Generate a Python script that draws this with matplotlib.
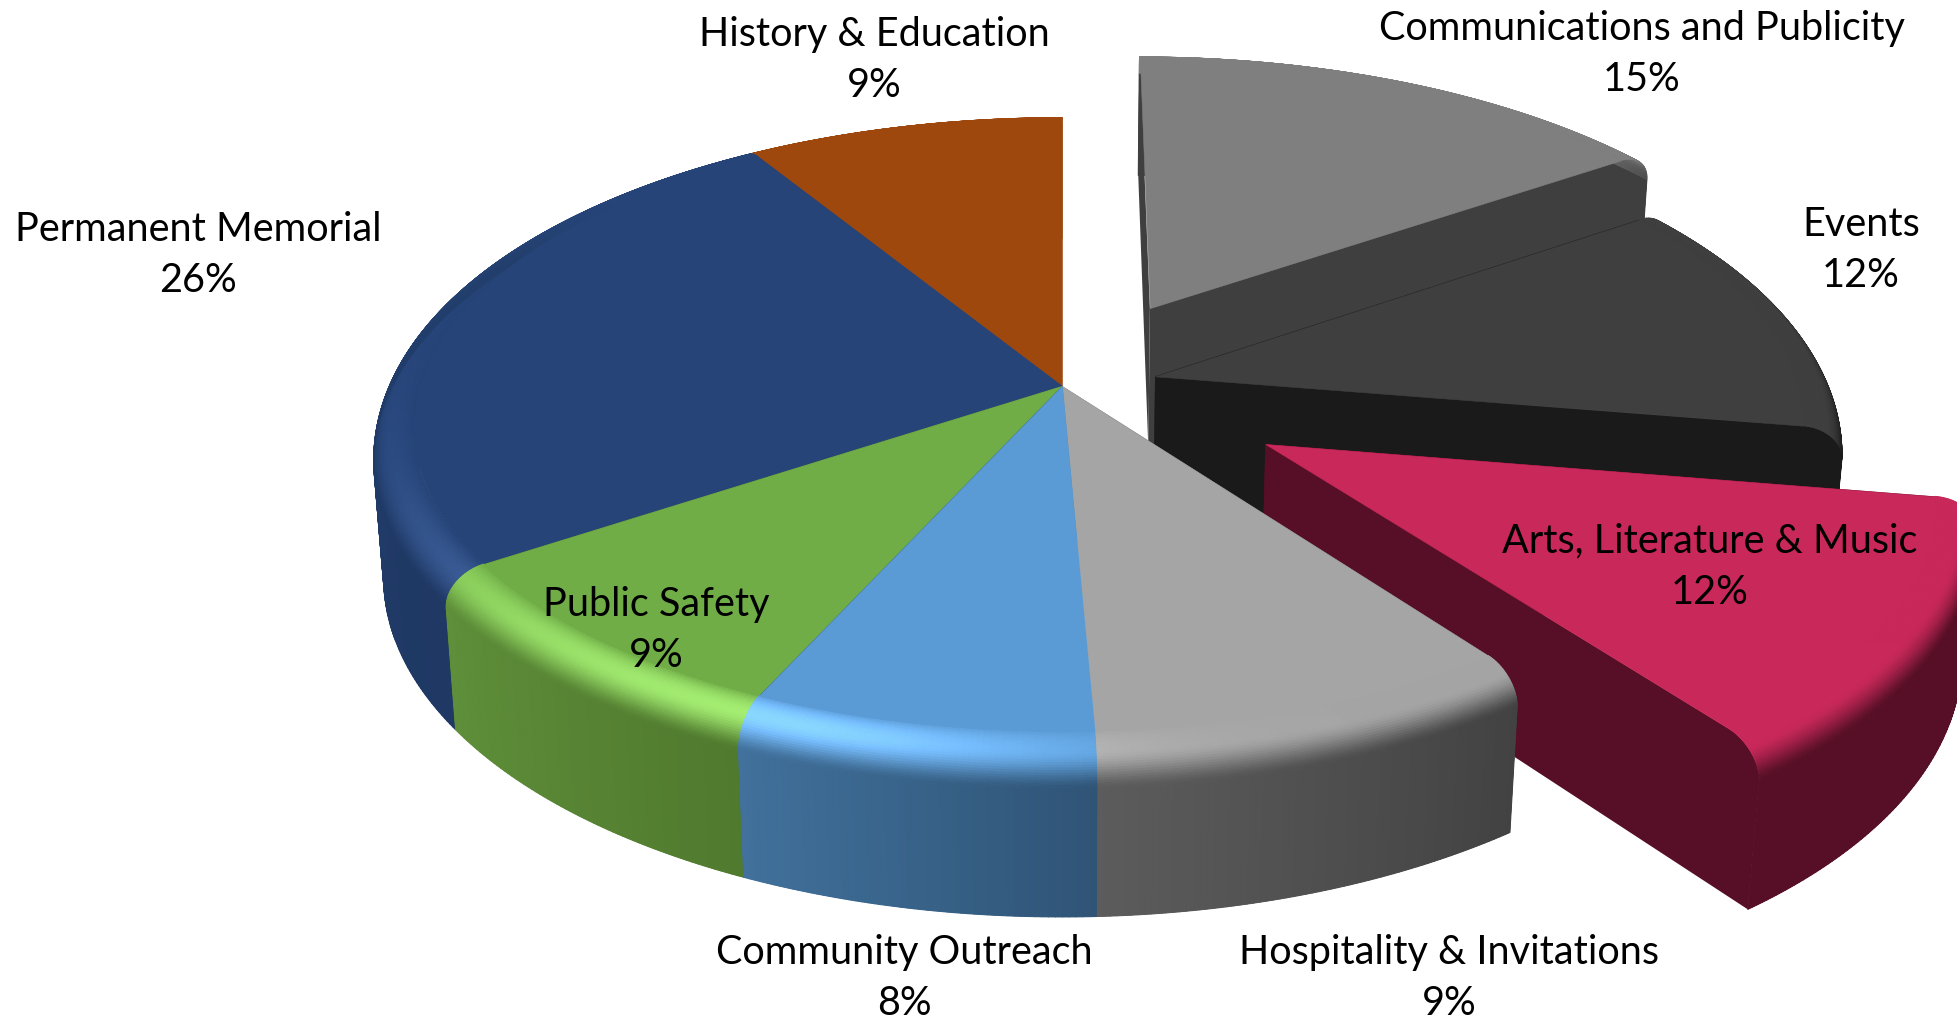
import numpy as np
import matplotlib
matplotlib.use('Agg')
import matplotlib.pyplot as plt
from matplotlib.collections import PolyCollection
from matplotlib.colors import to_rgb

# slices clockwise from 12 o'clock
categories = ['Communications and Publicity', 'Events', 'Arts, Literature & Music',
              'Hospitality & Invitations', 'Community Outreach', 'Public Safety',
              'Permanent Memorial', 'History & Education']
percent_labels = [15, 12, 12, 9, 8, 9, 26, 9]
# drawn share of the circle (labels are rounded)
shares = [15.4, 12.2, 12.3, 9.4, 7.5, 8.9, 25.5, 8.8]
explode = [0.286, 0.14, 0.34, 0, 0, 0, 0, 0]

top_colors = ['#7f7f7f', '#3f3f3f', '#c9285a', '#a5a5a5', '#5b9bd5', '#70ad47', '#264478', '#9e480e']
wall_start = ['#3f3f3f', '#1a1a1a', '#560f26', '#424242', '#2f5476', '#507a2e', '#1f3864', '#5e2a08']
wall_end = ['#3f3f3f', '#1a1a1a', '#560f26', '#5c5c5c', '#41719c', '#5f8f3a', '#234170', '#5e2a08']

label_pos = {'Communications and Publicity': (1642, 54), 'Events': (1861, 250),
             'Arts, Literature & Music': (1710, 567), 'Hospitality & Invitations': (1449, 978),
             'Community Outreach': (904, 978), 'Public Safety': (656, 630),
             'Permanent Memorial': (198, 255), 'History & Education': (874, 60)}

# camera, all in pixels of the output
cx, cy = 1062, 386
f, g, d = 684, 318.5, 147.7
k, m = 0.14, 0.018
r0, zb = 0.94, 0.206


def project(u, v, z):
    w = 1 + k * v + m * z
    return np.column_stack([cx + f * u / w, cy - (g * v - d * z) / w])


def blend(a, b, s):
    return np.array(a) * (1 - s) + np.array(b) * s


def highlight(t_deg, top):
    # light catches the rounded edge around the lower left
    a = (t_deg - 202 + 180) % 360 - 180
    sig = 14 if a < 0 else 30
    return 55 / 255 * np.exp(-0.5 * (a / sig) ** 2) * (0.5 + np.array(top))


def draw_slice(ax, i, t0, t1):
    e = explode[i]
    mid = np.radians((t0 + t1) / 2)
    ou, ov = e * np.sin(mid), e * np.cos(mid)
    top = to_rgb(top_colors[i])
    ws, we = to_rgb(wall_start[i]), to_rgb(wall_end[i])
    n = max(int(t1 - t0) * 2, 4)
    ts = np.linspace(t0, t1, n + 1)
    rad = np.radians(ts)

    def pt(r, t, z):
        return project(ou + r * np.sin(t), ov + r * np.cos(t), np.broadcast_to(z, np.shape(t)))

    # bevel profile, quarter round from flat top to side wall
    ss = np.linspace(0, 1, 26)
    prof_r = r0 + (1 - r0) * np.sin(ss * np.pi / 2)
    prof_z = zb * (1 - np.cos(ss * np.pi / 2))
    apex = project(np.array([ou]), np.array([ov]), np.array([0.0]))
    apex_lo = project(np.array([ou]), np.array([ov]), np.array([1.0]))

    # solid layer first so that no seams show through the gradient strips
    solid, solid_cols = [], []
    for t, col in ((rad[0], ws), (rad[-1], we)):
        tt = np.full_like(prof_r, t)
        edge = pt(prof_r, tt, prof_z)
        bottom = pt(1.0, np.array([t]), 1.0)
        solid.append(np.vstack([apex, edge, bottom, apex_lo]))
        solid_cols.append(col)
    up = pt(1.0, rad, zb)
    lo = pt(1.0, rad, 1.0)
    solid.append(np.vstack([up, lo[::-1]]))
    solid_cols.append(blend(ws, we, 0.5))
    ax.add_collection(PolyCollection(solid, facecolors=solid_cols, edgecolors='none'))

    polys, cols = [], []
    # side wall
    for j in range(n):
        polys.append(np.array([up[j], up[j + 1], lo[j + 1], lo[j]]))
        cols.append(blend(ws, we, (j + 0.5) / n))

    # rounded edge, highlight first and then down to the wall colour
    rings = [pt(r, rad, z) for r, z in zip(prof_r, prof_z)]
    for j in range(n):
        tm = (ts[j] + ts[j + 1]) / 2
        h = highlight(tm, top)
        wall = blend(ws, we, (j + 0.5) / n)
        # the far side of the edge stays in the top colour
        fade = np.clip((0.72 - np.cos(np.radians(tm))) / 0.2, 0, 1)
        for q in range(len(ss) - 1):
            s = (ss[q] + ss[q + 1]) / 2
            if s < 0.38:
                col = np.array(top) + h * np.sin(s / 0.38 * np.pi / 2)
            else:
                p = (s - 0.38) / 0.62
                p = p * p * (3 - 2 * p) * fade
                col = blend(np.array(top) + h, wall, p)
            polys.append(np.array([rings[q][j], rings[q][j + 1], rings[q + 1][j + 1], rings[q + 1][j]]))
            cols.append(np.clip(col, 0, 1))
    ax.add_collection(PolyCollection(polys, facecolors=cols, edgecolors=cols, linewidths=0.7))

    # flat top
    ax.add_collection(PolyCollection([np.vstack([apex, rings[0]])], facecolors=[top],
                                     edgecolors=[top], linewidths=0.4))


fig = plt.figure(figsize=(19.57, 10.19), dpi=100)
ax = fig.add_axes([0, 0, 1, 1])
ax.set_xlim(0, 1957)
ax.set_ylim(1019, 0)
ax.axis('off')

edges = np.cumsum([0] + shares) / np.sum(shares) * 360
# back to front, exploded slices sit behind the main body
for i in [0, 1, 2, 7, 6, 5, 3, 4]:
    draw_slice(ax, i, edges[i], edges[i + 1])

for name, pct in zip(categories, percent_labels):
    x, y = label_pos[name]
    ax.text(x, y, '%s\n%d%%' % (name, pct), ha='center', va='center', multialignment='center',
            family='Lato', fontsize=28.5, color='black', linespacing=1.49, zorder=10)

fig.savefig('out.png', dpi=100)
